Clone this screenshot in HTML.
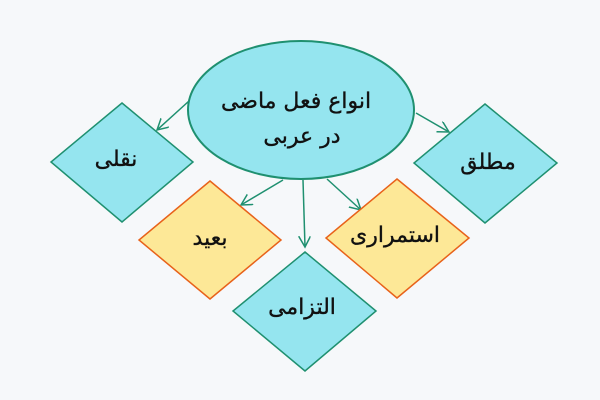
<!DOCTYPE html>
<html><head><meta charset="utf-8"><style>
body{margin:0;width:600px;height:400px;background:#f6f8fa;overflow:hidden}
svg{display:block}
text{font-family:"DejaVu Sans",sans-serif;fill:#111;text-anchor:middle;stroke:#111;stroke-width:0.35}
</style></head><body>
<svg width="600" height="400" viewBox="0 0 600 400">
<defs><marker id="a" markerWidth="14" markerHeight="14" refX="11" refY="6" orient="auto" markerUnits="userSpaceOnUse"><path d="M0,0 L11,6 L0,12" fill="none" stroke="#1f9070" stroke-width="1.5"/></marker></defs>
<g stroke="#1f9070" stroke-width="1.5" fill="none" marker-end="url(#a)">
<line x1="189" y1="101" x2="157" y2="130"/>
<line x1="416" y1="113" x2="449" y2="132"/>
<line x1="283" y1="180" x2="241" y2="205"/>
<line x1="303" y1="180" x2="305" y2="247"/>
<line x1="327" y1="179" x2="361" y2="210"/>
</g>
<ellipse cx="301" cy="110" rx="113" ry="69" fill="#95e5ef" stroke="#1f9070" stroke-width="2"/>
<polygon points="122,103 193,162 122,222 51,162" fill="#95e5ef" stroke="#1f9070" stroke-width="1.5"/>
<polygon points="485,104 557,163 485,223 414,163" fill="#95e5ef" stroke="#1f9070" stroke-width="1.5"/>
<polygon points="210,181 281,240 210,299 139,240" fill="#fde897" stroke="#e8621a" stroke-width="1.5"/>
<polygon points="397,179 469,238 397,298 326,238" fill="#fde897" stroke="#e8621a" stroke-width="1.5"/>
<polygon points="305,252 376,311 305,371 233,311" fill="#95e5ef" stroke="#1f9070" stroke-width="1.5"/>
<text x="296" y="108" font-size="22" direction="rtl">انواع فعل ماضی</text>
<text x="302" y="143" font-size="22" direction="rtl">در عربی</text>
<text x="116" y="166" font-size="22" direction="rtl">نقلی</text>
<text x="488" y="169" font-size="22" direction="rtl">مطلق</text>
<text x="210" y="245" font-size="22" direction="rtl">بعید</text>
<text x="395" y="242" font-size="22" direction="rtl">استمراری</text>
<text x="302" y="314" font-size="22" direction="rtl">التزامی</text>
</svg>
</body></html>
